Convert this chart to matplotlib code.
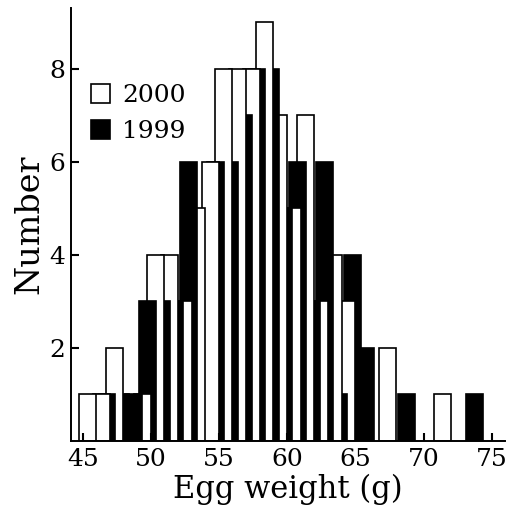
import matplotlib
matplotlib.use("Agg")
import matplotlib.pyplot as plt
from matplotlib.patches import Patch

# ---- data ----
weights = list(range(45, 75))  # 1-g weight classes
count_2000 = [1, 1, 2, 0, 1, 4, 4, 3, 5, 6, 8, 8, 8, 9, 7, 5, 7, 3, 4, 3,
              0, 0, 2, 0, 0, 0, 1, 0, 0, 0]
count_1999 = [0, 1, 1, 1, 3, 3, 3, 6, 0, 6, 6, 7, 8, 8, 5, 6, 3, 6, 1, 4,
              2, 0, 0, 1, 0, 0, 0, 0, 1, 0]
series_labels = ["2000", "1999"]
x_ticks = [45, 50, 55, 60, 65, 70, 75]
y_ticks = [2, 4, 6, 8]
x_label = "Egg weight (g)"
y_label = "Number"

plt.rcParams['font.family'] = ['DejaVu Serif']

W, H = 508, 521
fig = plt.figure(figsize=(W / 100, H / 100), dpi=100)
ax = fig.add_axes([71 / W, 80 / H, 434 / W, 433 / H])

bar_w = 1.25
off_white, off_black = 0.35, 0.75
lw = 1.2

# overlapping bars: bars further left sit in front
z = 1.0
for k, cw, cb in reversed(list(zip(weights, count_2000, count_1999))):
    if cb:
        ax.bar(k + off_black, cb, width=bar_w, color='black', edgecolor='black',
               linewidth=lw, zorder=z)
        z += 0.01
    if cw:
        ax.bar(k + off_white, cw, width=bar_w, color='white', edgecolor='black',
               linewidth=lw, zorder=z)
        z += 0.01

ax.set_xlim(44.14, 75.96)
ax.set_ylim(0, 9.31)
ax.set_xticks(x_ticks)
ax.set_yticks(y_ticks)
for s in ['top', 'right']:
    ax.spines[s].set_visible(False)
for s in ['left', 'bottom']:
    ax.spines[s].set_linewidth(1.4)
    ax.spines[s].set_zorder(3)
ax.tick_params(axis='both', direction='in', length=6, width=1.5, labelsize=18)
ax.tick_params(axis='x', pad=5)
ax.tick_params(axis='y', pad=4)
ax.set_xlabel(x_label, fontsize=22, labelpad=2)
ax.set_ylabel(y_label, fontsize=24, labelpad=3)

handles = [Patch(facecolor='white', edgecolor='black', linewidth=1.2),
           Patch(facecolor='black', edgecolor='black', linewidth=1.2)]
leg = ax.legend(handles, series_labels, loc='upper left', frameon=False,
                bbox_to_anchor=(0.046, 0.824), fontsize=18,
                handlelength=0.75, handleheight=0.75, handletextpad=0.5,
                labelspacing=0.52, borderaxespad=0, borderpad=0)
leg.set_zorder(5)

fig.savefig("out.png", dpi=100)
